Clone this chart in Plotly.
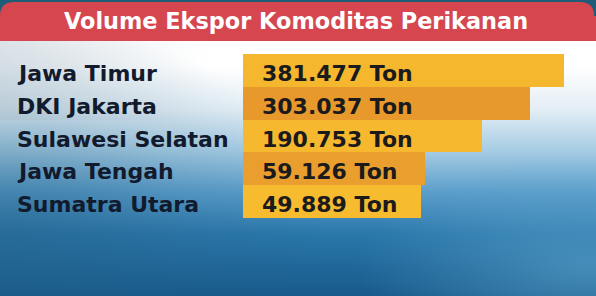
import base64
import plotly.graph_objects as go

# ---- data ----
provinces = ["Jawa Timur", "DKI Jakarta", "Sulawesi Selatan", "Jawa Tengah", "Sumatra Utara"]
volumes_ton = [381477, 303037, 190753, 59126, 49889]
unit = "Ton"
title_text = "Volume Ekspor Komoditas Perikanan"

# ---- style ----
bar_colors = ["#F4B72D", "#E8992B", "#F5B82E", "#E99E2E", "#F6BB2F"]
W, H = 596, 296
ML, MR, MT, MB = 243, 6, 53, 78
PW, PH = W - ML - MR, H - MT - MB
AXIS_START = -365000          # axis left edge (bars start here)
AXIS_END = AXIS_START + PW / 0.00043
FONT = "DejaVu Sans"

svg = f'''<svg xmlns="http://www.w3.org/2000/svg" width="{W}" height="{H}" viewBox="0 0 {W} {H}" preserveAspectRatio="none">
<defs>
<linearGradient id="v" x1="0" y1="0" x2="0" y2="1">
<stop offset="0" stop-color="#ffffff"/>
<stop offset="0.22" stop-color="#ffffff"/>
<stop offset="0.37" stop-color="#e3eef5"/>
<stop offset="0.51" stop-color="#a6cce3"/>
<stop offset="0.65" stop-color="#5a9dca"/>
<stop offset="0.79" stop-color="#2a77aa"/>
<stop offset="1" stop-color="#175a8b"/>
</linearGradient>
<radialGradient id="h" cx="0" cy="0.78" r="0.55" gradientTransform="translate(0,0.78) scale(1,1.3) translate(0,-0.78)">
<stop offset="0" stop-color="#245f86" stop-opacity="0.5"/>
<stop offset="0.6" stop-color="#245f86" stop-opacity="0.15"/>
<stop offset="1" stop-color="#245f86" stop-opacity="0"/>
</radialGradient>
<linearGradient id="g" x1="0" y1="0" x2="1" y2="0">
<stop offset="0" stop-color="#c8d3da" stop-opacity="0.5"/>
<stop offset="0.35" stop-color="#c8d3da" stop-opacity="0"/>
</linearGradient>
<radialGradient id="r" cx="0.98" cy="0.9" r="0.38">
<stop offset="0" stop-color="#63aad2" stop-opacity="0.55"/>
<stop offset="1" stop-color="#63aad2" stop-opacity="0"/>
</radialGradient>
</defs>
<rect x="0" y="0" width="{W}" height="{H}" fill="url(#v)"/>
<rect x="0" y="40" width="{W}" height="80" fill="url(#g)"/>
<rect x="0" y="0" width="{W}" height="{H}" fill="url(#h)"/>
<rect x="0" y="0" width="{W}" height="{H}" fill="url(#r)"/>
<rect x="0" y="0" width="{W}" height="18" fill="#1f5c77"/>
<path d="M0,16 Q0,2 14,2 L580,2 Q594,2 594,16 L594,41 L0,41 Z" fill="#D6464F"/>
<rect x="594" y="16" width="2" height="25" fill="#D6464F"/>
</svg>'''
bg_uri = "data:image/svg+xml;base64," + base64.b64encode(svg.encode()).decode()

fig = go.Figure()
fig.add_trace(go.Bar(
    y=provinces,
    x=[v - AXIS_START for v in volumes_ton],
    base=AXIS_START,
    orientation="h",
    marker=dict(color=bar_colors, line=dict(width=0)),
    hoverinfo="skip",
))

def fmt(v):
    return f"{v:,}".replace(",", ".") + " " + unit

annotations = []
for p, v in zip(provinces, volumes_ton):
    annotations.append(dict(
        x=AXIS_START, y=p, xref="x", yref="y", xanchor="left", yanchor="middle",
        xshift=17, yshift=-3, text=fmt(v), showarrow=False,
        font=dict(family=FONT, size=22, color="#1b1a1c", weight=700),
    ))
    annotations.append(dict(
        x=(15 - ML) / PW, y=p, xref="paper", yref="y", xanchor="left", yanchor="middle",
        yshift=-3, text=p, showarrow=False,
        font=dict(family=FONT, size=22, color="#121a2d", weight=700),
    ))

fig.update_layout(
    width=W, height=H,
    margin=dict(l=ML, r=MR, t=MT, b=MB, pad=0),
    paper_bgcolor="rgba(0,0,0,0)",
    plot_bgcolor="rgba(0,0,0,0)",
    bargap=0,
    showlegend=False,
    title=dict(text=title_text, x=296 / W, xanchor="center", y=1 - 21 / H, yanchor="middle",
               xref="container", yref="container",
               font=dict(family=FONT, size=22.4, color="#ffffff", weight=700)),
    xaxis=dict(range=[AXIS_START, AXIS_END], visible=False, fixedrange=True),
    yaxis=dict(autorange="reversed", visible=False, fixedrange=True),
    annotations=annotations,
    images=[dict(source=bg_uri, xref="paper", yref="paper",
                 x=-ML / PW, y=1 + MT / PH, sizex=W / PW, sizey=H / PH,
                 xanchor="left", yanchor="top", sizing="stretch", layer="below")],
)

fig.write_html("out.html", config={"displayModeBar": False})
